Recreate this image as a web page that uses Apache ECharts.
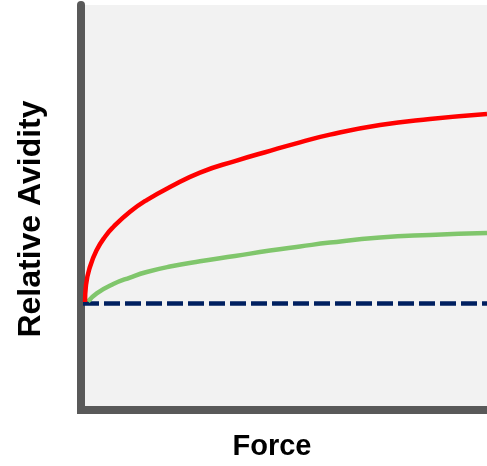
<!DOCTYPE html>
<html>
<head>
<meta charset="utf-8">
<script src="https://cdn.jsdelivr.net/npm/echarts@6/dist/echarts.min.js"></script>
<style>
html,body{margin:0;padding:0;background:#fff;}
#chart{width:487px;height:466px;}
</style>
</head>
<body>
<div id="chart"></div>
<script>
// Force (x) vs Relative Avidity (y)
const redCurve = [
  [0.099, 1.013], [0.123, 1.173], [0.222, 1.344], [0.387, 1.501], [0.591, 1.626],
  [0.796, 1.717], [1.207, 1.860], [1.618, 1.970], [2.192, 2.092], [2.931, 2.228],
  [3.793, 2.336], [4.655, 2.432], [5.394, 2.511], [6.133, 2.584], [7.365, 2.674],
  [8.596, 2.730], [10.0, 2.777]
];
const greenCurve = [
  [0.172, 1.018], [0.387, 1.095], [0.796, 1.182], [1.207, 1.243], [1.618, 1.295],
  [2.192, 1.346], [2.931, 1.395], [3.793, 1.445], [4.655, 1.496], [5.394, 1.534],
  [6.133, 1.571], [7.365, 1.618], [8.596, 1.642], [10.0, 1.660]
];
const baseline = [[0.05, 1], [10.0, 1]];
const xLabel = 'Force';
const yLabel = 'Relative Avidity';

const chart = echarts.init(document.getElementById('chart'), null, {renderer: 'canvas'});
chart.setOption({
  animation: false,
  backgroundColor: '#ffffff',
  grid: {
    left: 81, right: 0, top: 5, bottom: 56,
    show: true, backgroundColor: '#f2f2f2', borderWidth: 0
  },
  xAxis: {
    type: 'value', min: 0, max: 10,
    axisLine: {show: true, lineStyle: {color: '#595959', width: 8, cap: 'square'}},
    axisTick: {show: false}, axisLabel: {show: false}, splitLine: {show: false}
  },
  yAxis: {
    type: 'value', min: 0, max: 3.8,
    axisLine: {show: true, lineStyle: {color: '#595959', width: 8}},
    axisTick: {show: false}, axisLabel: {show: false}, splitLine: {show: false}
  },
  graphic: [
    {
      type: 'text', x: 272, y: 447,
      style: {text: xLabel, font: 'bold 29px "Liberation Sans", Arial, sans-serif',
        fill: '#000', textAlign: 'center', textVerticalAlign: 'middle'}
    },
    {
      type: 'text', x: 31, y: 219, rotation: Math.PI / 2,
      style: {text: yLabel, font: 'bold 32px "Liberation Sans", Arial, sans-serif',
        fill: '#000', textAlign: 'center', textVerticalAlign: 'middle'}
    }
  ],
  series: [
    {
      type: 'line', data: baseline, symbol: 'none', z: 3,
      lineStyle: {color: '#002060', width: 4.5, type: [16, 5]}
    },
    {
      type: 'line', data: greenCurve, symbol: 'none', smooth: 0.5, z: 4,
      lineStyle: {color: '#80c66c', width: 4.5}
    },
    {
      type: 'line', data: redCurve, symbol: 'none', smooth: 0.5, z: 5,
      lineStyle: {color: '#ff0000', width: 4.5}
    }
  ]
});
</script>
</body>
</html>
